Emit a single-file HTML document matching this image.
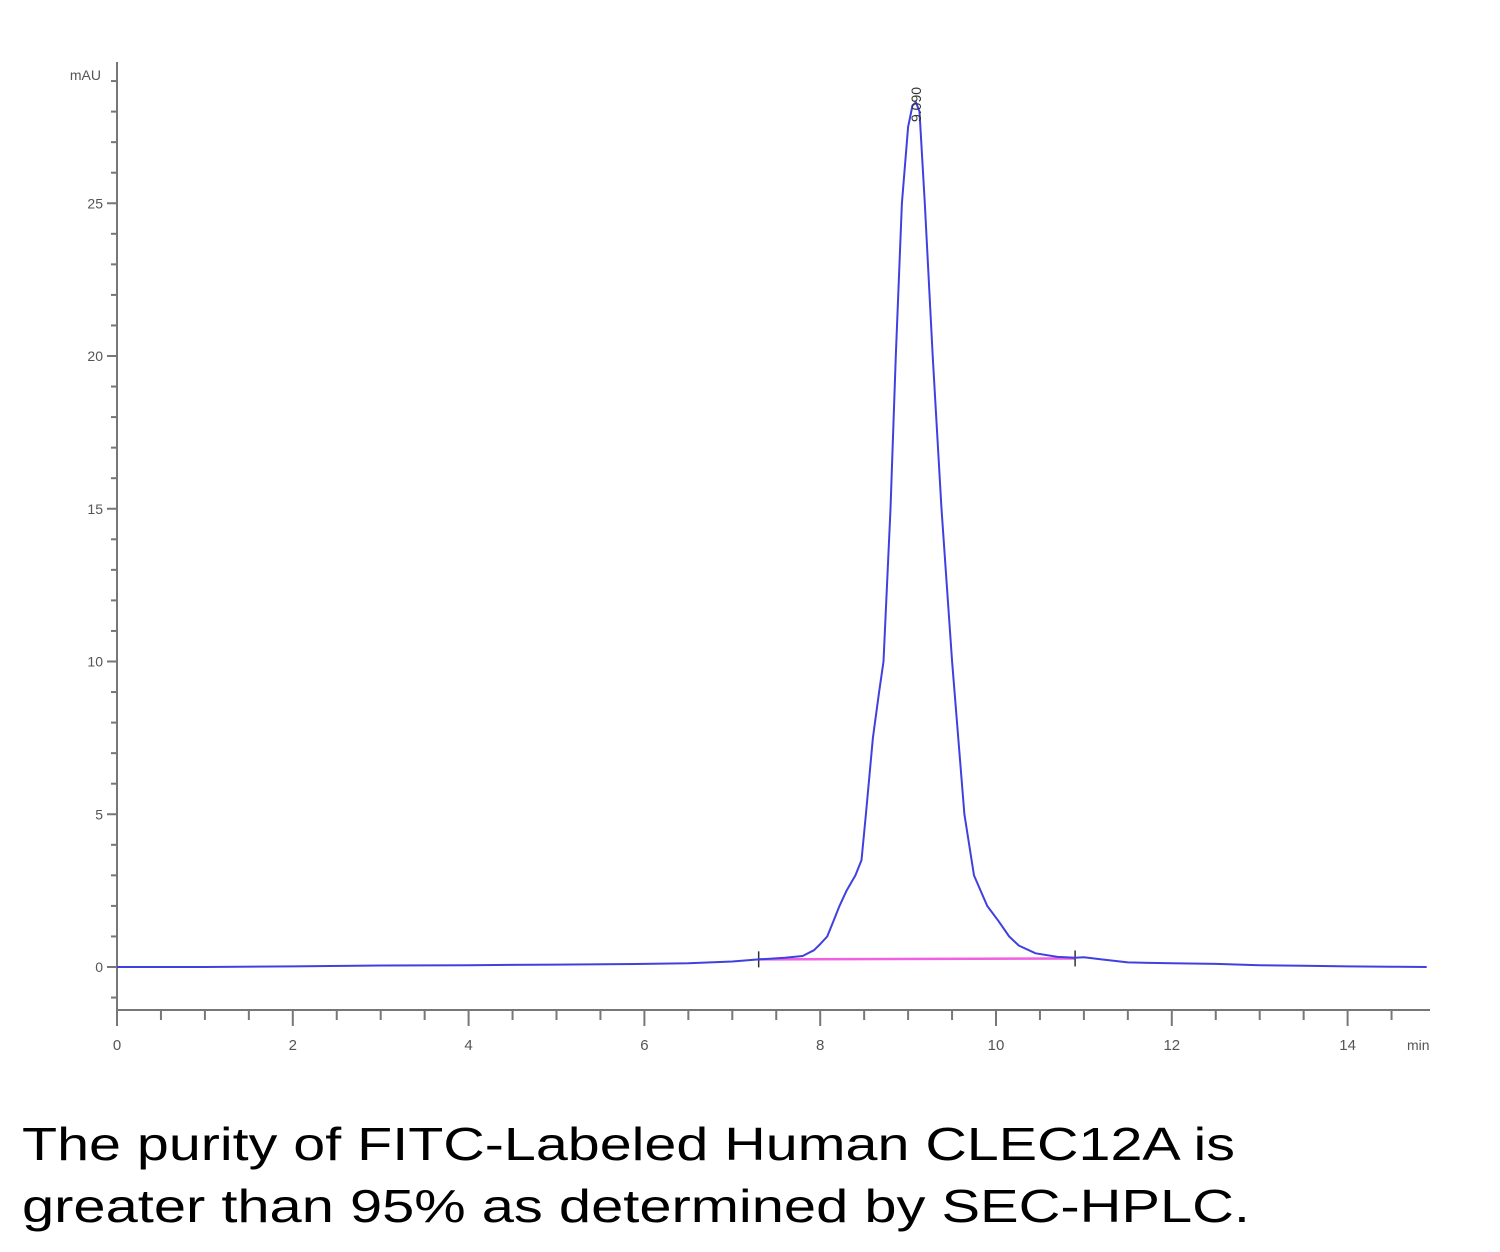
<!DOCTYPE html>
<html><head><meta charset="utf-8"><style>
html,body{margin:0;padding:0;background:#fff;}
svg{display:block;}
</style></head><body>
<svg id="chart" width="1500" height="1252" xmlns="http://www.w3.org/2000/svg">
<g id="axes"></g>
<g id="plot"></g>
<text x="22" y="1160" font-family="Liberation Sans, sans-serif" font-size="46" fill="#000" textLength="1213" lengthAdjust="spacingAndGlyphs">The purity of FITC-Labeled Human CLEC12A is</text>
<text x="22" y="1222" font-family="Liberation Sans, sans-serif" font-size="46" fill="#000" textLength="1228" lengthAdjust="spacingAndGlyphs">greater than 95% as determined by SEC-HPLC.</text>
</svg>
<script>
const times = [0,1,2,3,4,5,6,6.5,7,7.3,7.6,7.8,7.93,8.0,8.08,8.15,8.22,8.3,8.4,8.47,8.52,8.6,8.67,8.72,8.8,8.86,8.93,9.0,9.05,9.09,9.13,9.19,9.28,9.38,9.5,9.64,9.75,9.9,10.03,10.15,10.26,10.45,10.7,10.9,11.0,11.2,11.5,12,12.5,13,13.5,14,14.5,14.9];
const signal = [0,0,0.02,0.05,0.06,0.08,0.1,0.12,0.18,0.25,0.3,0.36,0.55,0.75,1.0,1.5,2.0,2.5,3.0,3.5,5.0,7.5,9.0,10.0,15.0,20.0,25.0,27.5,28.2,28.3,28.0,25.0,20.0,15.0,10.0,5.0,3.0,2.0,1.5,1.0,0.7,0.45,0.33,0.3,0.32,0.25,0.15,0.12,0.1,0.06,0.04,0.02,0.01,0];
const xTickLabels = ["0","2","4","6","8","10","12","14"];
const yTickLabels = ["0","5","10","15","20","25"];
const baselineTimes = [7.3,10.9];
const baselineValues = [0.25,0.28];
const peakLabel = "9.090";
const peakTime = 9.09;

const NS="http://www.w3.org/2000/svg";
const X0=117, PXM=87.9, Y0=967, PXU=30.55;
const xs=t=>X0+t*PXM, ys=v=>Y0-v*PXU;
function mk(tag,attrs,parent){const e=document.createElementNS(NS,tag);for(const k in attrs)e.setAttribute(k,attrs[k]);parent.appendChild(e);return e;}
const axes=document.getElementById('axes'), plot=document.getElementById('plot');
const ax='#777';
const yAx=mk('line',{x1:X0,y1:62,x2:X0,y2:1010,stroke:ax,'stroke-width':2},axes);


const xAx=mk('line',{x1:X0,y1:1010,x2:1430,y2:1010,stroke:ax,'stroke-width':2},axes);


for(let v=-1;v<=29;v++){const y=ys(v);const major=v%5===0;
  const l=mk('line',{x1:major?X0-10:X0-6,y1:y,x2:X0,y2:y,stroke:ax,'stroke-width':2},axes);
  
  }
yTickLabels.forEach(s=>{const t=mk('text',{x:X0-14,y:ys(+s)+5,'text-anchor':'end','font-family':'Liberation Sans, sans-serif','font-size':14,fill:'#555'},axes);t.textContent=s;
  
  });
const mau=mk('text',{x:X0-16,y:80,'text-anchor':'end','font-family':'Liberation Sans, sans-serif','font-size':14,fill:'#555'},axes);mau.textContent='mAU';


for(let i=0;i<=29;i++){const t=i*0.5;const x=xs(t);const major=i%4===0;
  const l=mk('line',{x1:x,y1:1010,x2:x,y2:major?1026:1020,stroke:ax,'stroke-width':2},axes);
  
  }
xTickLabels.forEach(s=>{const t=mk('text',{x:xs(+s),y:1050,'text-anchor':'middle','font-family':'Liberation Sans, sans-serif','font-size':15,fill:'#555'},axes);t.textContent=s;
  
  });
const mn=mk('text',{x:1407,y:1050,'font-family':'Liberation Sans, sans-serif','font-size':14,fill:'#555'},axes);mn.textContent='min';


// integration baseline
const bl=mk('line',{x1:xs(baselineTimes[0]),y1:ys(baselineValues[0]),x2:xs(baselineTimes[1]),y2:ys(baselineValues[1]),stroke:'#f060e0','stroke-width':2.5},plot);


baselineTimes.forEach((t,i)=>{const l=mk('line',{x1:xs(t),y1:ys(baselineValues[i])-8,x2:xs(t),y2:ys(baselineValues[i])+8,stroke:'#333','stroke-width':1.5},plot);
  
  });
// trace
let d='';times.forEach((t,i)=>{d+=(i?'L':'M')+xs(t).toFixed(1)+','+ys(signal[i]).toFixed(1);});
const tr=mk('path',{d:d,fill:'none',stroke:'#4040e0','stroke-width':2,'stroke-linejoin':'round'},plot);


// peak label
const px=xs(peakTime)+5;
const pl=mk('text',{x:0,y:0,transform:`translate(${px},122) rotate(-90)`,'font-family':'Liberation Sans, sans-serif','font-size':14,fill:'#333'},plot);pl.textContent=peakLabel;


</script>
</body></html>
